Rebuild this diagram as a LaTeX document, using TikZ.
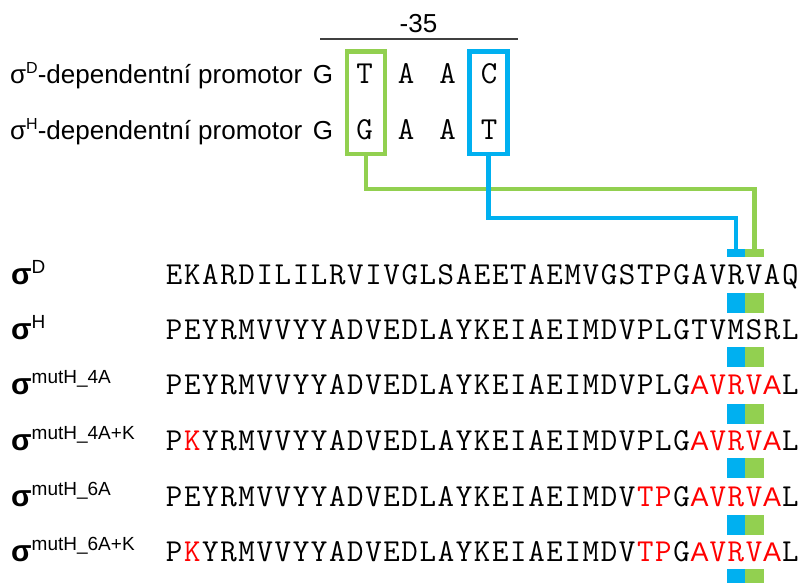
\documentclass[tikz,border=0pt]{standalone}
\usepackage{fontspec}
\setmainfont{Liberation Sans}
\definecolor{boxgreen}{HTML}{92D050}
\definecolor{boxblue}{HTML}{00B0F0}
\definecolor{seqred}{HTML}{FF0000}

% fixed pitch of one residue in the alignment
\newlength\aapitch
\setlength\aapitch{18.12pt}

\newcommand\seqfont{\ttfamily\addfontfeature{FakeStretch=1.1}\fontsize{32}{32}\selectfont}

% \aaseq{...}: upper case letters are set black, lower case ones red (as capitals)
\makeatletter
\newcommand\aaseq[1]{\aa@loop#1\relax}
\def\aa@loop#1{\ifx#1\relax\else\aa@cell{#1}\expandafter\aa@loop\fi}
\def\aa@cell#1{\makebox[\aapitch][c]{\aa@glyph{#1}}}
\def\aa@sansA{{\rmfamily\fontsize{27}{27}\selectfont A}}
\def\aa@glyph#1{%
  \if a#1\textcolor{seqred}{\aa@sansA}%
  \else\ifnum`#1>`Z \textcolor{seqred}{\uppercase{#1}}%
  \else #1\fi\fi}
\makeatother

\newcommand\sigmabold{{\bfseries\fontsize{30}{30}\selectfont σ}}
\newcommand\rowsup[1]{\raisebox{10.5pt}{\fontsize{19}{19}\selectfont #1}}

\begin{document}
\begin{tikzpicture}[x=1pt, y=-1pt,
  seqrow/.style={anchor=base west, inner sep=0pt, font=\seqfont},
  nt/.style={anchor=base, inner sep=0pt, font=\seqfont},
  ntsans/.style={anchor=base, inner sep=0pt, font=\fontsize{26}{26}\selectfont},
  promlabel/.style={anchor=base west, inner sep=0pt, font=\fontsize{26}{26}\selectfont},
  rowlabel/.style={anchor=base west, inner sep=0pt},
  frame/.style={draw, line width=4.5pt, minimum width=38pt, minimum height=102.5pt, inner sep=0pt},
  link/.style={line width=4.5pt},
  blueblk/.style={fill=boxblue, inner sep=0pt, minimum width=18pt},
  greenblk/.style={fill=boxgreen, inner sep=0pt, minimum width=19pt},
  smallblk/.style={minimum height=8pt},
  bigblk/.style={minimum height=20pt}]
\useasboundingbox (0,0) rectangle (801,582);

% -35 region
\node[anchor=base, inner sep=0pt, font=\fontsize{26}{26}\selectfont] (m35) at (418.5,32) {-35};
\coordinate (barL) at (320,39);
\coordinate (barR) at (518,39);
\draw[line width=1.3pt, black!75] (barL) -- (barR);

% promoter rows
\node[promlabel] (promD) at (10,83) {σ\raisebox{10pt}{\fontsize{16}{16}\selectfont D}-dependentní promotor};
\node[promlabel] (promH) at (10,139) {σ\raisebox{10pt}{\fontsize{16}{16}\selectfont H}-dependentní promotor};

\node[ntsans] (d1) at (323,83) {G};
\node[nt] (d2) at (364.5,83) {T};
\node[nt] (d3) at (406,83) {A};
\node[nt] (d4) at (447.5,83) {A};
\node[nt] (d5) at (489,83) {C};

\node[ntsans] (h1) at (323,139) {G};
\node[nt] (h2) at (364.5,139) {G};
\node[nt] (h3) at (406,139) {A};
\node[nt] (h4) at (447.5,139) {A};
\node[nt] (h5) at (489,139) {T};

\node[frame, boxgreen] (boxG) at (366,102.6) {};
\node[frame, boxblue] (boxB) at (488.3,102.6) {};

% marker blocks under the contacted residues
\node[blueblk, smallblk] (bB0) at (736,253) {};
\node[greenblk, smallblk] (gB0) at (754.5,253) {};
\foreach \i/\y in {1/303, 2/357, 3/414, 4/468, 5/525, 6/579} {
  \node[blueblk, bigblk] (bB\i) at (736,\y) {};
  \node[greenblk, bigblk] (gB\i) at (754.5,\y) {};
}

% connectors from promoter positions to residues
\draw[link, boxgreen] (boxG.south) -- (boxG.south |- 0,189) -| (gB0.north);
\draw[link, boxblue] (boxB.south) -- (boxB.south |- 0,218) -| (bB0.north);

% sigma factor labels
\node[rowlabel] (lblD) at (11,284) {\sigmabold\rowsup{D}};
\node[rowlabel] (lblH) at (11,339) {\sigmabold\rowsup{H}};
\node[rowlabel] (lbl4A) at (11,394) {\sigmabold\rowsup{mutH\_4A}};
\node[rowlabel] (lbl4AK) at (11,450) {\sigmabold\rowsup{mutH\_4A+K}};
\node[rowlabel] (lbl6A) at (11,506) {\sigmabold\rowsup{mutH\_6A}};
\node[rowlabel] (lbl6AK) at (11,561) {\sigmabold\rowsup{mutH\_6A+K}};

% sequences
\node[seqrow] (seqD) at (164.94,284) {\aaseq{EKARDILILRVIVGLSAEETAEMVGSTPGAVRVAQ}};
\node[seqrow] (seqH) at (164.94,339) {\aaseq{PEYRMVVYYADVEDLAYKEIAEIMDVPLGTVMSRL}};
\node[seqrow] (seq4A) at (164.94,394) {\aaseq{PEYRMVVYYADVEDLAYKEIAEIMDVPLGavrvaL}};
\node[seqrow] (seq4AK) at (164.94,450) {\aaseq{PkYRMVVYYADVEDLAYKEIAEIMDVPLGavrvaL}};
\node[seqrow] (seq6A) at (164.94,506) {\aaseq{PEYRMVVYYADVEDLAYKEIAEIMDVtpGavrvaL}};
\node[seqrow] (seq6AK) at (164.94,561) {\aaseq{PkYRMVVYYADVEDLAYKEIAEIMDVtpGavrvaL}};
\end{tikzpicture}
\end{document}
